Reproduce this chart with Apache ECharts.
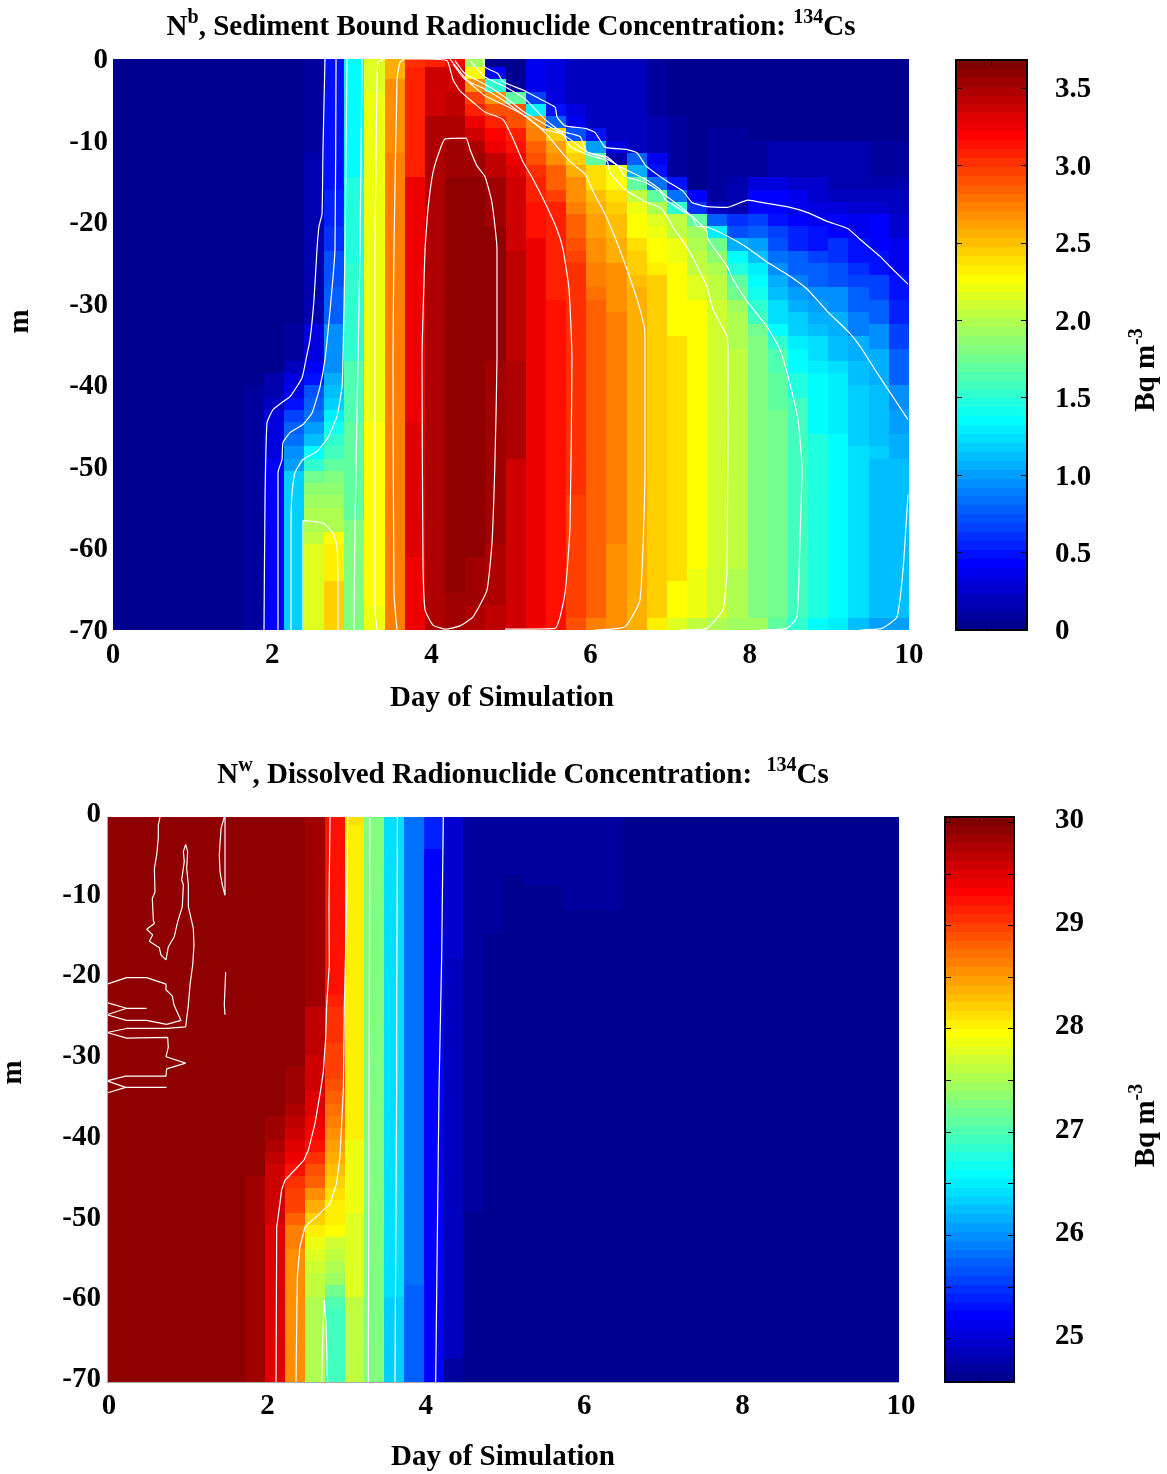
<!DOCTYPE html>
<html>
<head>
<meta charset="utf-8">
<style>html,body{margin:0;padding:0;background:#fff}#c{width:1167px;height:1474px}</style>
<script src="https://cdn.jsdelivr.net/npm/echarts@6/dist/echarts.min.js"></script>
</head>
<body>
<div id="c"></div>
<script>
// ---- axis ticks ----
const dayTicks = [0, 2, 4, 6, 8, 10];
const depthTicks = [0, -10, -20, -30, -40, -50, -60, -70];
const sedimentBarTicks = [0, 0.5, 1.0, 1.5, 2.0, 2.5, 3.0, 3.5];
const dissolvedBarMajor = [25, 26, 27, 28, 29, 30];
const dissolvedBarTicks = [25, 25.5, 26, 26.5, 27, 27.5, 28, 28.5, 29, 29.5, 30];
const sedimentRange = [0, 3.68];
const dissolvedRange = [24.58, 30.05];

// ---- cell values: one list per time column, each a list of [rowEnd, value] runs ----
const sedimentColumns = [
[[47,.02]],[[47,.02]],[[47,.02]],[[47,.02]],[[47,.02]],[[47,.02]],[[47,.02]],
[[27,.03],[47,.1]],
[[26,.04],[28,.12],[29,.2],[33,.3],[47,.42]],
[[22,.03],[25,.1],[26,.2],[27,.3],[28,.4],[29,.5],[30,.65],[31,.75],[32,.85],[33,.92],[34,1.0],[47,1.18]],
[[8,.1],[22,.15],[25,.3],[26,.43],[27,.5],[28,.7],[29,.75],[30,.85],[31,1.0],[32,1.15],[33,1.38],[34,1.55],[35,1.75],[36,1.85],[37,1.95],[39,2.0],[40,2.03],[47,2.15]],
[[11,.46],[14,.55],[16,.62],[19,.7],[22,.8],[26,.95],[27,1.05],[28,1.1],[29,1.2],[30,1.32],[31,1.4],[32,1.5],[33,1.6],[34,1.7],[35,1.8],[36,1.85],[37,1.9],[39,2.0],[40,2.25],[43,2.35],[47,2.45]],
[[10,1.38],[17,1.47],[25,1.55],[30,1.63],[38,1.72],[47,1.83]],
[[3,2.13],[30,2.2],[45,2.26],[47,2.2]],
[[2,2.58],[8,2.68],[47,2.75]],
[[1,2.99],[10,3.1],[30,3.22],[41,3.3],[47,3.22]],
[[1,3.1],[5,3.36],[15,3.45],[47,3.5]],
[[1,3.2],[3,3.35],[5,3.42],[7,3.48],[10,3.53],[16,3.58],[44,3.6],[47,3.55]],
[[1,1.9],[2,2.3],[3,2.65],[4,2.95],[5,3.1],[6,3.25],[7,3.38],[8,3.5],[10,3.55],[41,3.6],[45,3.55],[47,3.45]],
[[1,.05],[2,.42],[3,1.55],[4,2.65],[5,2.9],[6,3.05],[7,3.2],[8,3.27],[10,3.4],[14,3.55],[25,3.58],[40,3.55],[45,3.5],[47,3.4]],
[[2,.03],[3,.1],[4,1.7],[6,2.9],[7,3.05],[8,3.15],[9,3.22],[10,3.28],[16,3.35],[25,3.42],[33,3.45],[47,3.38]],
[[3,.35],[4,.65],[5,1.3],[6,2.65],[7,2.76],[8,2.82],[9,2.93],[10,3.0],[11,3.05],[12,3.1],[15,3.15],[25,3.22],[47,3.26]],
[[4,.3],[5,.5],[6,.75],[7,2.45],[8,2.6],[9,2.7],[10,2.82],[11,2.87],[12,2.97],[20,3.05],[47,3.12]],
[[4,.2],[5,.3],[6,.4],[7,.72],[8,2.33],[9,2.45],[10,2.58],[11,2.65],[12,2.7],[13,2.76],[14,2.82],[15,2.85],[16,2.9],[17,2.95],[36,3.02],[46,2.98],[47,2.88]],
[[6,.2],[7,.5],[8,.98],[9,1.7],[11,2.4],[12,2.48],[13,2.55],[15,2.6],[17,2.65],[19,2.72],[20,2.78],[46,2.86],[47,2.76]],
[[7,.2],[8,.3],[9,.15],[10,2.2],[11,2.3],[12,2.38],[13,2.42],[14,2.48],[15,2.5],[17,2.58],[21,2.65],[40,2.74],[47,2.68]],
[[8,.2],[9,.8],[10,1.05],[11,1.7],[12,2.07],[13,2.2],[15,2.3],[16,2.36],[18,2.42],[19,2.48],[47,2.57]],
[[5,.08],[8,.15],[9,.35],[10,.46],[11,.85],[12,1.7],[13,2.0],[14,2.17],[15,2.22],[17,2.3],[18,2.35],[22,2.42],[44,2.46],[46,2.42],[47,2.35]],
[[5,.03],[10,.1],[11,.46],[12,.85],[13,1.5],[15,2.07],[17,2.2],[18,2.25],[23,2.3],[43,2.36],[46,2.3],[47,2.13]],
[[11,.05],[12,.42],[13,.6],[14,1.7],[15,1.9],[16,1.98],[17,2.03],[18,2.07],[20,2.13],[23,2.25],[42,2.3],[46,2.22],[47,2.07]],
[[6,.03],[12,.08],[13,.2],[14,.78],[15,1.3],[16,1.73],[17,1.84],[18,1.97],[20,2.03],[46,2.12],[47,1.97]],
[[6,.03],[10,.1],[13,.15],[14,.6],[15,.72],[16,1.05],[17,1.38],[18,1.48],[19,1.7],[20,1.78],[21,1.9],[24,1.97],[42,2.05],[46,2.0],[47,1.9]],
[[7,.05],[10,.1],[11,.3],[13,.42],[14,.65],[15,.78],[16,.98],[17,1.15],[18,1.27],[19,1.35],[20,1.42],[21,1.55],[22,1.6],[23,1.78],[46,1.82],[47,1.9]],
[[7,.03],[10,.12],[11,.3],[13,.42],[14,.5],[15,.65],[16,.72],[17,.85],[18,.92],[19,1.05],[20,1.12],[22,1.25],[23,1.38],[24,1.5],[26,1.65],[29,1.72],[46,1.78],[47,1.7]],
[[7,.03],[10,.12],[11,.28],[13,.38],[14,.45],[16,.55],[18,.78],[19,.9],[20,.98],[21,1.08],[23,1.2],[24,1.28],[26,1.38],[28,1.48],[46,1.58],[47,1.5]],
[[7,.05],[10,.12],[12,.25],[13,.33],[14,.38],[16,.5],[17,.65],[19,.78],[20,.92],[21,1.0],[22,1.08],[23,1.15],[25,1.22],[26,1.3],[31,1.38],[46,1.45],[47,1.38]],
[[7,.05],[10,.12],[11,.15],[12,.22],[13,.33],[15,.42],[17,.6],[19,.72],[21,.92],[23,1.05],[25,1.15],[26,1.22],[31,1.3],[46,1.38],[47,1.28]],
[[7,.05],[10,.12],[11,.15],[12,.2],[13,.28],[15,.35],[17,.5],[18,.6],[19,.65],[21,.78],[23,.9],[25,1.05],[27,1.12],[32,1.2],[46,1.25],[47,1.15]],
[[7,.05],[10,.1],[11,.13],[12,.2],[13,.25],[16,.42],[18,.5],[20,.65],[22,.78],[24,.92],[27,1.05],[29,1.1],[32,1.15],[33,1.2],[46,1.12],[47,1.03]],
[[7,.05],[10,.1],[11,.12],[12,.18],[13,.22],[15,.28],[18,.38],[20,.46],[22,.55],[24,.65],[27,.78],[29,.92],[31,1.0],[33,1.07],[46,1.1],[47,1.03]]
];

const dissolvedColumns = [
[[47,29.95]],[[47,29.95]],[[47,29.95]],[[47,29.95]],[[47,29.95]],[[47,29.95]],[[47,29.95]],
[[30,29.95],[47,29.86]],
[[25,29.95],[26,29.86],[27,29.8],[28,29.75],[29,29.65],[34,29.55],[47,29.47]],
[[21,29.95],[23,29.86],[24,29.82],[25,29.75],[26,29.65],[27,29.6],[28,29.5],[29,29.37],[30,29.2],[31,29.03],[33,28.95],[34,28.78],[36,28.65],[47,28.55]],
[[16,29.8],[20,29.7],[23,29.62],[24,29.53],[25,29.47],[26,29.37],[27,29.3],[28,29.2],[29,29.03],[30,28.9],[31,28.8],[32,28.55],[33,28.42],[34,28.2],[35,28],[36,27.88],[37,27.8],[38,27.7],[40,27.63],[47,27.55]],
[[15,29.25],[16,29.13],[19,29.05],[22,28.98],[23,28.88],[24,28.8],[25,28.72],[26,28.65],[27,28.55],[28,28.47],[29,28.42],[30,28.33],[31,28.2],[32,28.12],[34,28],[35,27.93],[36,27.7],[37,27.63],[38,27.55],[39,27.47],[40,27.2],[41,27.05],[47,26.97]],
[[1,28.15],[15,28.07],[27,28],[33,27.9],[40,27.77],[46,27.63],[47,27.58]],
[[47,27.28]],
[[40,26.45],[47,26.37]],
[[39,25.78],[47,25.7]],
[[3,25.35],[43,25.26],[47,25.18]],
[[12,24.95],[45,24.85],[47,24.72]],
[[33,24.72],[47,24.62]],
[[10,24.7],[47,24.6]],
[[5,24.7],[47,24.6]],
[[6,24.68],[47,24.6]],
[[6,24.68],[47,24.6]],
[[8,24.68],[47,24.6]],
[[8,24.68],[47,24.6]],
[[8,24.68],[47,24.6]],
[[47,24.6]],[[47,24.6]],[[47,24.6]],[[47,24.6]],[[47,24.6]],[[47,24.6]],[[47,24.6]],[[47,24.6]],
[[47,24.6]],[[47,24.6]],[[47,24.6]],[[47,24.6]],[[47,24.6]],[[47,24.6]]
];

// ---- white contour lines: [day, depth] ----
const sedimentContours = [
[[1.897,-70],[1.91,-54],[1.935,-44.6],[2.01,-43],[2.123,-42.1],[2.224,-41.4],[2.374,-39.1],[2.425,-36.8],[2.475,-34.4],[2.525,-29.5],[2.563,-23.3],[2.588,-20.5],[2.626,-19],[2.638,-11.1],[2.663,0]],
[[2.073,-70],[2.073,-50.7],[2.123,-49.1],[2.136,-47],[2.224,-45.8],[2.387,-44.8],[2.5,-43.4],[2.6,-40.2],[2.663,-36.8],[2.739,-29.5],[2.789,-23.3],[2.802,0]],
[[2.236,-70],[2.236,-57.4],[2.249,-53.2],[2.286,-50.7],[2.387,-49.1],[2.563,-48.1],[2.701,-46.4],[2.814,-43.8],[2.877,-40.2],[2.889,-36.8],[2.915,-23.3],[2.94,0]],
[[2.387,-70],[2.387,-61.4],[2.387,-56.6],[2.638,-56.9],[2.764,-58.1],[2.814,-59.8],[2.827,-65.5],[2.827,-70]],
[[3.028,-70],[3.04,-57.4],[3.078,-36.8],[3.103,-23.3],[3.128,0]],
[[3.317,-70],[3.291,-67.5],[3.291,-36.8],[3.291,-23.3],[3.317,-2.8],[3.329,-.4],[3.417,0]],
[[3.568,-70],[3.53,-65.5],[3.518,-36.8],[3.53,-23.3],[3.568,-2.5],[3.606,-.4],[3.668,0],[3.882,0],[4.196,-.2],[4.271,-2.5],[4.359,-3.9],[4.523,-5.3],[4.673,-6.5],[4.899,-7.4],[5.013,-9.5],[5.151,-12.6],[5.276,-14.7],[5.427,-17.6],[5.578,-20.9],[5.653,-23.3],[5.729,-28.2],[5.766,-36.8],[5.741,-57.4],[5.678,-65.5],[5.553,-69.8],[4.925,-69.9]],
[[3.92,-23.3],[3.957,-18.4],[4.02,-13.9],[4.108,-11.1],[4.171,-9.8],[4.435,-9.7],[4.485,-11.1],[4.573,-13.1],[4.673,-14.4],[4.761,-17.6],[4.824,-23.3],[4.824,-36.8],[4.799,-49.1],[4.761,-59.3],[4.698,-65.1],[4.523,-68.4],[4.359,-69.5],[4.183,-69.9],[4.02,-69.4],[3.92,-67.5],[3.894,-61.4],[3.882,-36.8],[3.92,-23.3]],
[[4.234,0],[4.46,-2.7],[4.673,-4.5],[4.95,-5.8],[5.201,-7.1],[5.427,-9],[5.678,-11.9],[5.804,-13.1],[5.93,-14.1],[6.03,-16.2],[6.181,-19],[6.332,-22.5],[6.457,-25.8],[6.595,-29.8],[6.683,-33.5],[6.683,-50.4],[6.621,-66.3],[6.432,-69.6],[6.055,-70]],
[[4.271,-.6],[4.422,-2.5],[4.673,-3.7],[4.925,-5.2],[5.176,-7],[5.402,-8.6],[5.653,-9.2],[5.741,-10.7],[5.955,-11.7],[6.206,-12.5],[6.244,-13.9],[6.432,-16],[6.709,-17.6],[6.872,-18.2],[6.96,-19.3],[7.035,-20.6],[7.249,-23.7],[7.462,-27.9],[7.538,-30.7],[7.714,-34],[7.726,-36],[7.726,-38.1],[7.714,-62.6],[7.663,-67.5],[7.462,-69.8],[7.123,-70]],
[[4.296,-.2],[4.422,-1.8],[4.673,-3.1],[4.899,-4.5],[5.151,-6.4],[5.427,-8],[5.616,-9],[5.779,-10.1],[5.955,-11.4],[6.156,-12],[6.344,-13.1],[6.432,-14.4],[6.683,-15.1],[6.834,-16],[7.06,-17.6],[7.274,-19.3],[7.462,-21.1],[7.475,-22.1],[7.714,-25.4],[7.789,-27],[7.965,-29.7],[8.216,-32.8],[8.379,-35.6],[8.48,-38.9],[8.606,-44.2],[8.656,-50.4],[8.631,-58.6],[8.593,-68.4],[8.467,-69.8],[8.128,-70]],
[[4.485,-.2],[4.673,-2.2],[4.925,-3.4],[5.176,-4.9],[5.427,-7.4],[5.616,-8.8],[5.867,-9.5],[5.955,-11.4],[6.206,-12],[6.344,-13.1],[6.683,-14.7],[6.872,-16],[6.935,-17.2],[7.186,-18.8],[7.274,-19.3],[7.337,-20.5],[7.462,-20.6],[7.714,-21.7],[7.965,-23.1],[8.216,-24.9],[8.467,-26.4],[8.719,-28.2],[8.97,-30.9],[9.234,-33.4],[9.384,-35.2],[9.573,-38.1],[9.736,-40.5],[9.987,-44.2]],
[[4.661,0],[4.673,-1],[4.837,-1.8],[4.899,-2.8],[5.151,-3.8],[5.364,-4.9],[5.553,-5.9],[5.578,-7.1],[5.678,-8.2],[5.93,-8.5],[6.055,-9],[6.181,-10.8],[6.457,-11.1],[6.583,-11.5],[6.696,-13.1],[6.96,-15],[7.161,-16.2],[7.274,-17.6],[7.462,-18.1],[7.714,-18.2],[7.977,-17.3],[8.216,-17.7],[8.467,-18.1],[8.719,-18.8],[8.97,-19.9],[9.234,-20.8],[9.384,-22.1],[9.636,-24.2],[9.799,-25.8],[9.987,-27.6]],
[[9.384,-70],[9.66,-69.8],[9.849,-68.4],[9.925,-62.6],[9.987,-53.4]]
];
const dissolvedContours = [
[[.669,0],[.648,-1],[.648,-2.6],[.627,-4.7],[.598,-6.4],[.606,-9.3],[.572,-10.1],[.585,-12.8],[.598,-13.2],[.501,-13.9],[.577,-14.6],[.535,-15.4],[.661,-16.2],[.682,-17.1],[.745,-17.7],[.774,-16.1],[.85,-14.8],[.892,-13],[.951,-11.1],[.964,-8.4],[.943,-7.8],[.976,-5.5],[.964,-4.3],[.993,-3.4],[1.018,-4.3],[1.006,-6.4],[1.027,-8.4],[1.027,-11.1],[1.09,-13.8],[1.098,-15.9],[1.082,-18.3],[1.048,-20.8],[1.027,-23.3],[.993,-26],[.753,-26.2],[.248,-26.2],[0,-26.7],[.248,-27.4],[.766,-27.3],[.774,-28.5],[.745,-29.7],[.993,-30.5],[.753,-31.2],[.745,-32.1],[.236,-32.1],[0,-32.7],[.236,-33.5],[.753,-33.5]],
[[.236,-33.5],[0,-34.2]],
[[.501,-23.7],[.248,-23.7],[0,-24.5],[.248,-25.2],[.501,-25.2],[.753,-25.7],[.934,-25.2],[.846,-23.3],[.825,-22.2],[.745,-21.4],[.745,-20.7],[.501,-19.9],[.248,-19.9],[0,-20.7],[0,-23],[.248,-23.7]],
[[1.481,0],[1.44,-1.4],[1.418,-4.7],[1.427,-6.8],[1.456,-8.4],[1.49,-9.7],[1.49,0]],
[[1.498,-19.2],[1.481,-23.3],[1.49,-24.5]],
[[2.816,0],[2.803,-10.9],[2.807,-18.3],[2.774,-23.3],[2.761,-27.4],[2.731,-31.6],[2.698,-33.8],[2.626,-38],[2.542,-41.3],[2.487,-42.5],[2.373,-43.7],[2.247,-45],[2.205,-46.2],[2.172,-48.7],[2.143,-50.8],[2.134,-70]],
[[3.039,0],[3.026,-10.9],[2.997,-23.3],[2.984,-33.8],[2.963,-38],[2.941,-42.1],[2.899,-45.4],[2.816,-47.9],[2.668,-49.3],[2.5,-50.8],[2.437,-53.2],[2.403,-57],[2.386,-70]],
[[3.321,0],[3.312,-23.3],[3.308,-33.8],[3.3,-70]],
[[3.667,0],[3.658,-23.3],[3.657,-33.8],[3.636,-70]],
[[4.246,0],[4.226,-17.1],[4.192,-33.8],[4.15,-70]],
[[2.71,-70],[2.723,-64.8],[2.744,-59.9],[2.765,-62.7],[2.786,-70]]
];

// ---- grid cell edges ----
const rowEdges = [0];
for (let i = 0; i <= 46; i++) rowEdges.push(-1 - 1.5 * i);
const sedimentDayEdges = [0];
for (let k = 1; k <= 40; k++) sedimentDayEdges.push(10 - (40 - k) * 0.2534);
const dissolvedDayEdges = [];
for (let k = 0; k <= 40; k++) dissolvedDayEdges.push(k * 0.25);

function buildCells(columns, dayEdges) {
  const cells = [];
  columns.forEach((runs, c) => {
    let start = 0;
    runs.forEach(([end, value]) => {
      for (let r = start; r < end; r++) cells.push([dayEdges[c], dayEdges[c + 1], rowEdges[r], rowEdges[r + 1], value]);
      start = end;
    });
  });
  return cells;
}

// jet(64) colour map
function jet(level) {
  const k = level + 1, c = v => Math.round(255 * Math.max(0, Math.min(1, v)));
  const b = k <= 8 ? 0.5 + k / 16 : k <= 24 ? 1 : (40 - k) / 16;
  const g = k <= 8 ? 0 : k <= 24 ? (k - 8) / 16 : k <= 40 ? 1 : (56 - k) / 16;
  const r = k <= 24 ? 0 : k <= 40 ? (k - 24) / 16 : k <= 56 ? 1 : 1 - (k - 56) / 16;
  return 'rgb(' + c(r) + ',' + c(g) + ',' + c(b) + ')';
}
function levelOf(v, range) {
  return Math.max(0, Math.min(63, Math.floor((v - range[0]) / (range[1] - range[0]) * 64)));
}
function rectItem(api, x0, x1, y0, y1, fill) {
  const a = api.coord([x0, y0]), b = api.coord([x1, y1]);
  const xa = Math.round(a[0]), xb = Math.round(b[0]), ya = Math.round(a[1]), yb = Math.round(b[1]);
  return { type: 'rect', shape: { x: xa, y: ya, width: xb - xa, height: yb - ya }, style: { fill: fill, stroke: null } };
}
function heatSeries(cells, range, axisIndex) {
  return {
    type: 'custom', xAxisIndex: axisIndex, yAxisIndex: axisIndex, data: cells, silent: true, clip: true, z: 2,
    progressive: 0, animation: false, encode: { x: [0, 1], y: [2, 3] },
    renderItem: (p, api) => rectItem(api, api.value(0), api.value(1), api.value(2), api.value(3), jet(levelOf(api.value(4), range)))
  };
}
function barSeries(range, xIdx, yIdx) {
  const step = (range[1] - range[0]) / 64, data = [];
  for (let i = 0; i < 64; i++) data.push([range[0] + i * step, range[0] + (i + 1) * step, i]);
  return {
    type: 'custom', xAxisIndex: xIdx, yAxisIndex: yIdx, data: data, silent: true, z: 2, progressive: 0, animation: false,
    encode: { y: [0, 1] },
    renderItem: (p, api) => rectItem(api, 0, 1, api.value(0), api.value(1), jet(api.value(2)))
  };
}
function contourSeries(list, axisIndex, smooth) {
  return list.map(line => ({
    type: 'line', xAxisIndex: axisIndex, yAxisIndex: axisIndex, data: line, symbol: 'none', silent: true, z: 4,
    clip: true, animation: false, smooth: smooth, lineStyle: { color: '#fff', width: 1.2 }
  }));
}

const FONT = '"Liberation Serif","Times New Roman",serif';
const big = { fontFamily: FONT, fontWeight: 'bold', fontSize: 29, color: '#000' };
const sup = { fontFamily: FONT, fontWeight: 'bold', fontSize: 20, color: '#000', verticalAlign: 'top', lineHeight: 34 };
const base = Object.assign({}, big, { verticalAlign: 'bottom', lineHeight: 34 });

function titleOf(text, left, top) {
  return { text: text, left: left, top: top, textAlign: 'center', textStyle: Object.assign({}, big, { rich: { a: base, s: sup } }) };
}
function mainX(idx, line) {
  return {
    type: 'value', gridIndex: idx, min: 0, max: 10, interval: 2, position: 'bottom', name: 'Day of Simulation',
    nameLocation: 'middle', nameGap: line.nameGap, nameTextStyle: Object.assign({}, big, { padding: line.namePad }),
    axisLine: { show: line.show, onZero: false, lineStyle: { color: '#aaa', width: 1 } }, axisTick: { show: false }, splitLine: { show: false },
    axisLabel: Object.assign({}, big, { margin: line.margin, padding: line.labelPad, customValues: dayTicks, showMinLabel: true, showMaxLabel: true }), z: 5
  };
}
function mainY(idx, line) {
  return {
    type: 'value', gridIndex: idx, min: -70, max: 0, interval: 10, position: 'left', name: 'm', nameLocation: 'middle', nameRotate: 90,
    nameGap: line.nameGap, nameTextStyle: Object.assign({}, big, { padding: line.namePad }),
    axisLine: { show: line.show, onZero: false, lineStyle: { color: '#aaa', width: 1 } }, axisTick: { show: false }, splitLine: { show: false },
    axisLabel: Object.assign({}, big, { margin: line.margin, verticalAlign: line.labelAlign, lineHeight: line.labelLine, customValues: depthTicks, showMinLabel: true, showMaxLabel: true }), z: 5
  };
}
function barX(idx, pos) {
  return {
    type: 'value', gridIndex: idx, min: 0, max: 1, position: pos, axisLabel: { show: false }, splitLine: { show: false },
    axisLine: { show: true, onZero: false, lineStyle: { color: '#000', width: 2 } },
    axisTick: { show: true, inside: true, length: 5, customValues: [0.5], lineStyle: { color: '#000', width: 1 } }, z: 5
  };
}
function barYRight(idx, range, ticks, labels, opts) {
  return {
    type: 'value', gridIndex: idx, min: range[0], max: range[1], position: 'right',
    name: '{a|Bq m}{s|-3}', nameLocation: 'middle', nameRotate: 90, nameGap: opts.nameGap,
    nameTextStyle: Object.assign({}, big, { padding: opts.namePad, rich: { a: base, s: sup } }),
    splitLine: { show: false }, axisLine: { show: true, onZero: false, lineStyle: { color: '#000', width: 2 } },
    axisTick: { show: true, inside: true, length: 6, customValues: ticks, lineStyle: { color: '#000', width: 1 } },
    axisLabel: Object.assign({}, big, { margin: opts.margin, verticalAlign: opts.labelAlign, lineHeight: opts.labelLine, customValues: labels, formatter: opts.fmt, showMinLabel: true }), z: 5
  };
}
function barYLeft(idx, range, ticks) {
  return {
    type: 'value', gridIndex: idx, min: range[0], max: range[1], position: 'left', axisLabel: { show: false }, splitLine: { show: false },
    axisLine: { show: true, onZero: false, lineStyle: { color: '#000', width: 2 } },
    axisTick: { show: true, inside: true, length: 6, customValues: ticks, lineStyle: { color: '#000', width: 1 } }, z: 5
  };
}

const chart = echarts.init(document.getElementById('c'), null, { renderer: 'canvas', width: 1167, height: 1474 });
chart.setOption({
  animation: false,
  backgroundColor: '#fff',
  title: [
    titleOf('{a|N}{s|b}{a|, Sediment Bound Radionuclide Concentration: }{s|134}{a|Cs}', 506, 3),
    titleOf('{a|N}{s|w}{a|, Dissolved Radionuclide Concentration:  }{s|134}{a|Cs}', 518, 751)
  ],
  grid: [
    { left: 113, top: 59, width: 796, height: 571, outerBoundsMode: 'none' },
    { left: 956, top: 60, width: 71, height: 570, outerBoundsMode: 'none' },
    { left: 107, top: 817, width: 792, height: 565, outerBoundsMode: 'none' },
    { left: 945, top: 817, width: 69, height: 565, outerBoundsMode: 'none' }
  ],
  xAxis: [
    mainX(0, { show: false, margin: 11, labelPad: 0, nameGap: 54, namePad: [0, 18, 0, 0] }),
    mainX(2, { show: true, margin: 10, labelPad: [0, 0, 0, 4], nameGap: 61, namePad: [0, 0, 0, 0] }),
    barX(1, 'bottom'), barX(1, 'top'), barX(3, 'bottom'), barX(3, 'top')
  ],
  yAxis: [
    mainY(0, { show: false, margin: 5, nameGap: 78, namePad: [0, 0, 0, 46], labelAlign: 'top', labelLine: 3 }),
    mainY(2, { show: true, margin: 6, nameGap: 79, namePad: [0, 0, 0, 54], labelAlign: 'bottom', labelLine: 5 }),
    barYRight(1, sedimentRange, sedimentBarTicks, sedimentBarTicks, { nameGap: 100, namePad: [0, 50, 0, 0], margin: 28, labelAlign: 'top', labelLine: 4, fmt: v => v === 0 ? '0' : v.toFixed(1) }),
    barYLeft(1, sedimentRange, sedimentBarTicks),
    barYRight(3, dissolvedRange, dissolvedBarTicks, dissolvedBarMajor, { nameGap: 113, namePad: [0, 52, 0, 0], margin: 41, labelAlign: 'bottom', labelLine: 4, fmt: v => String(v) }),
    barYLeft(3, dissolvedRange, dissolvedBarTicks)
  ],
  series: [
    heatSeries(buildCells(sedimentColumns, sedimentDayEdges), sedimentRange, 0),
    heatSeries(buildCells(dissolvedColumns, dissolvedDayEdges), dissolvedRange, 1),
    barSeries(sedimentRange, 2, 2),
    barSeries(dissolvedRange, 4, 4)
  ].concat(contourSeries(sedimentContours, 0, 0.15), contourSeries(dissolvedContours, 1, false))
});
</script>
</body>
</html>
